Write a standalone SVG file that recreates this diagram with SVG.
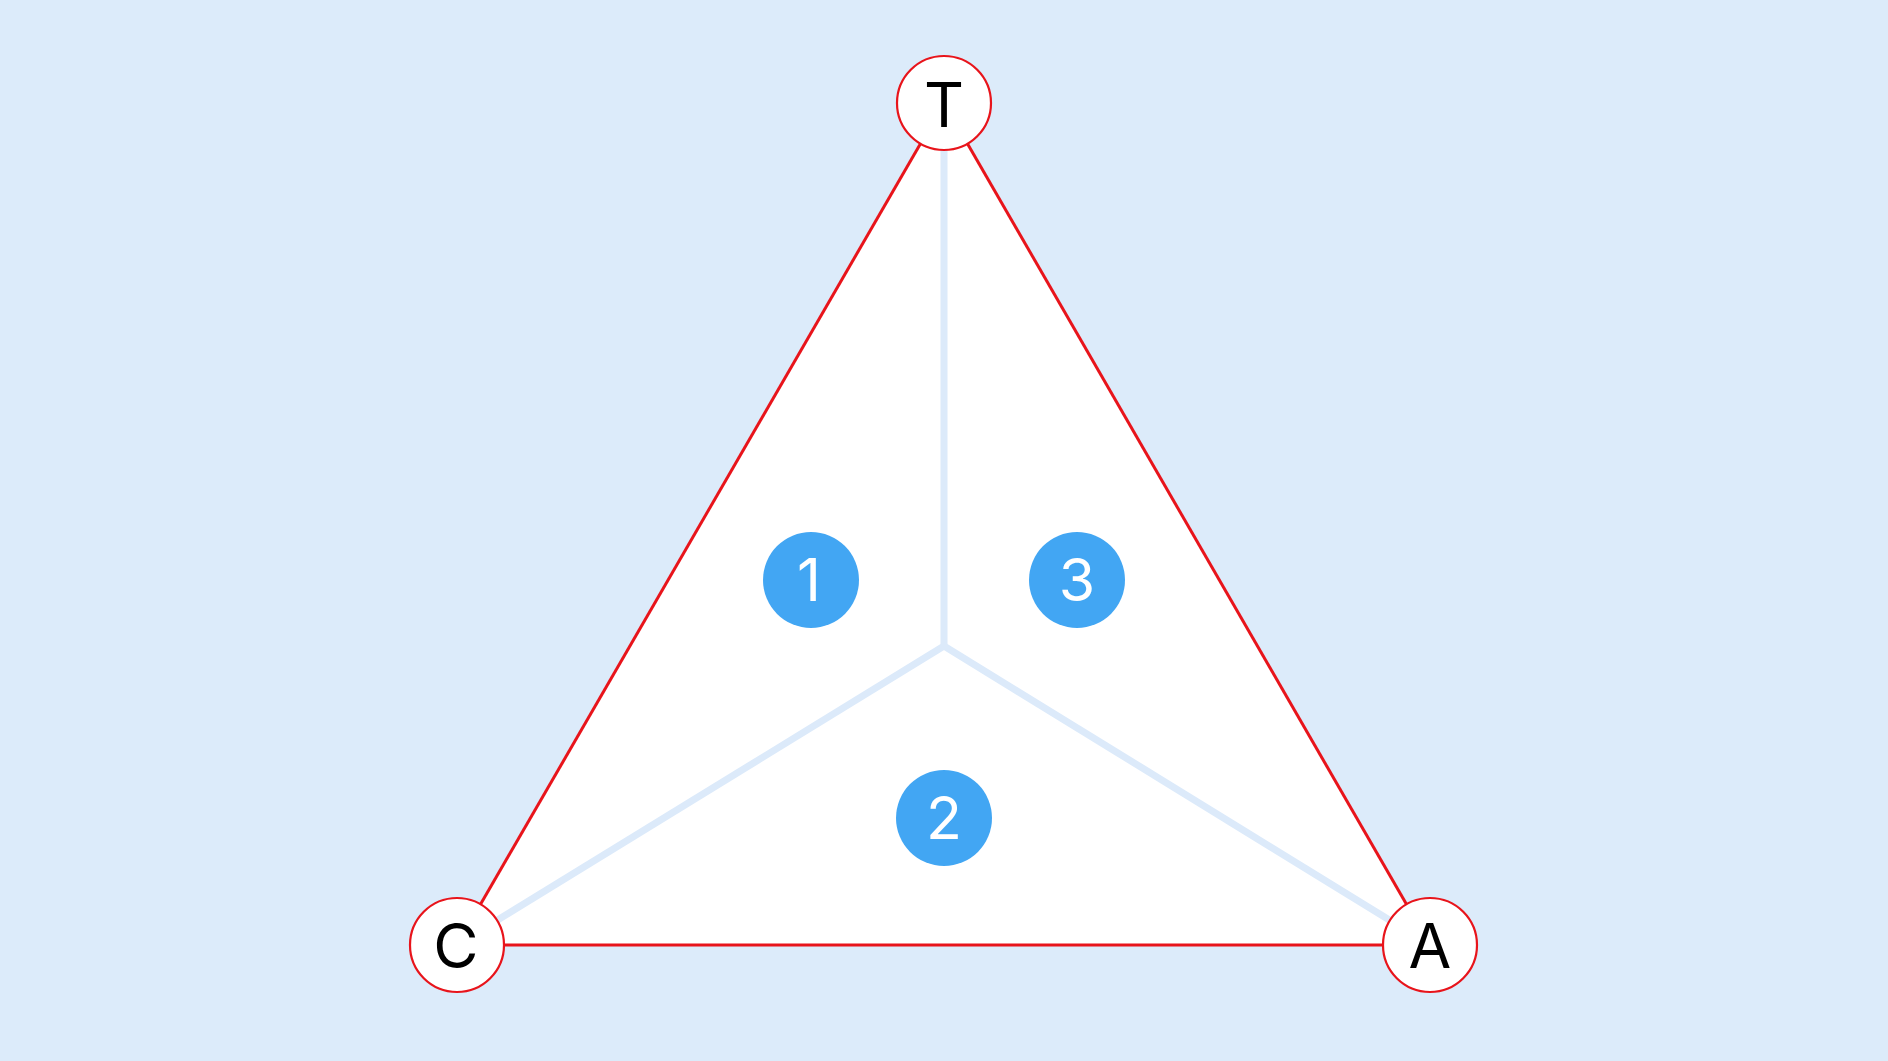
<svg xmlns="http://www.w3.org/2000/svg" width="1888" height="1061" viewBox="0 0 1888 1061">
<style>
.node{fill:#ffffff;stroke:#e8141b;stroke-width:2.2}
.lbl{font-family:Inter,"Open Sans","Liberation Sans",sans-serif;font-size:62px;font-weight:400;fill:#000;text-anchor:middle}
.badge{fill:#42a6f3}
.num{font-family:Inter,"Open Sans","Liberation Sans",sans-serif;font-size:59px;font-weight:400;fill:#ffffff;text-anchor:middle}
.edge{stroke:#e8141b;stroke-width:3;fill:none}
.inner{stroke:#dceafa;stroke-width:7;fill:none;stroke-linecap:butt}
</style>
<rect x="0" y="0" width="1888" height="1061" fill="#dcebfa"/>
<polygon points="944,103 457,945 1430,945" fill="#ffffff"/>
<g id="connectors">
<line class="inner" x1="944" y1="103" x2="944" y2="646"/>
<line class="inner" x1="944" y1="646" x2="457" y2="945"/>
<line class="inner" x1="944" y1="646" x2="1430" y2="945"/>
<line class="edge" x1="944" y1="103" x2="457" y2="945"/>
<line class="edge" x1="944" y1="103" x2="1430" y2="945"/>
<line class="edge" x1="457" y1="945" x2="1430" y2="945"/>
</g>
<g id="node-T"><circle class="node" cx="944" cy="103" r="47"/><text class="lbl" x="944" y="127">T</text></g>
<g id="node-C"><circle class="node" cx="457" cy="945" r="47"/><text class="lbl" x="456" y="968">C</text></g>
<g id="node-A"><circle class="node" cx="1430" cy="945" r="47"/><text class="lbl" x="1430" y="968">A</text></g>
<g id="badge-1"><circle class="badge" cx="811" cy="580" r="48"/><text class="num" x="809" y="601">1</text></g>
<g id="badge-3"><circle class="badge" cx="1077" cy="580" r="48"/><text class="num" x="1077" y="601">3</text></g>
<g id="badge-2"><circle class="badge" cx="944" cy="818" r="48"/><text class="num" x="944" y="839">2</text></g>
</svg>
